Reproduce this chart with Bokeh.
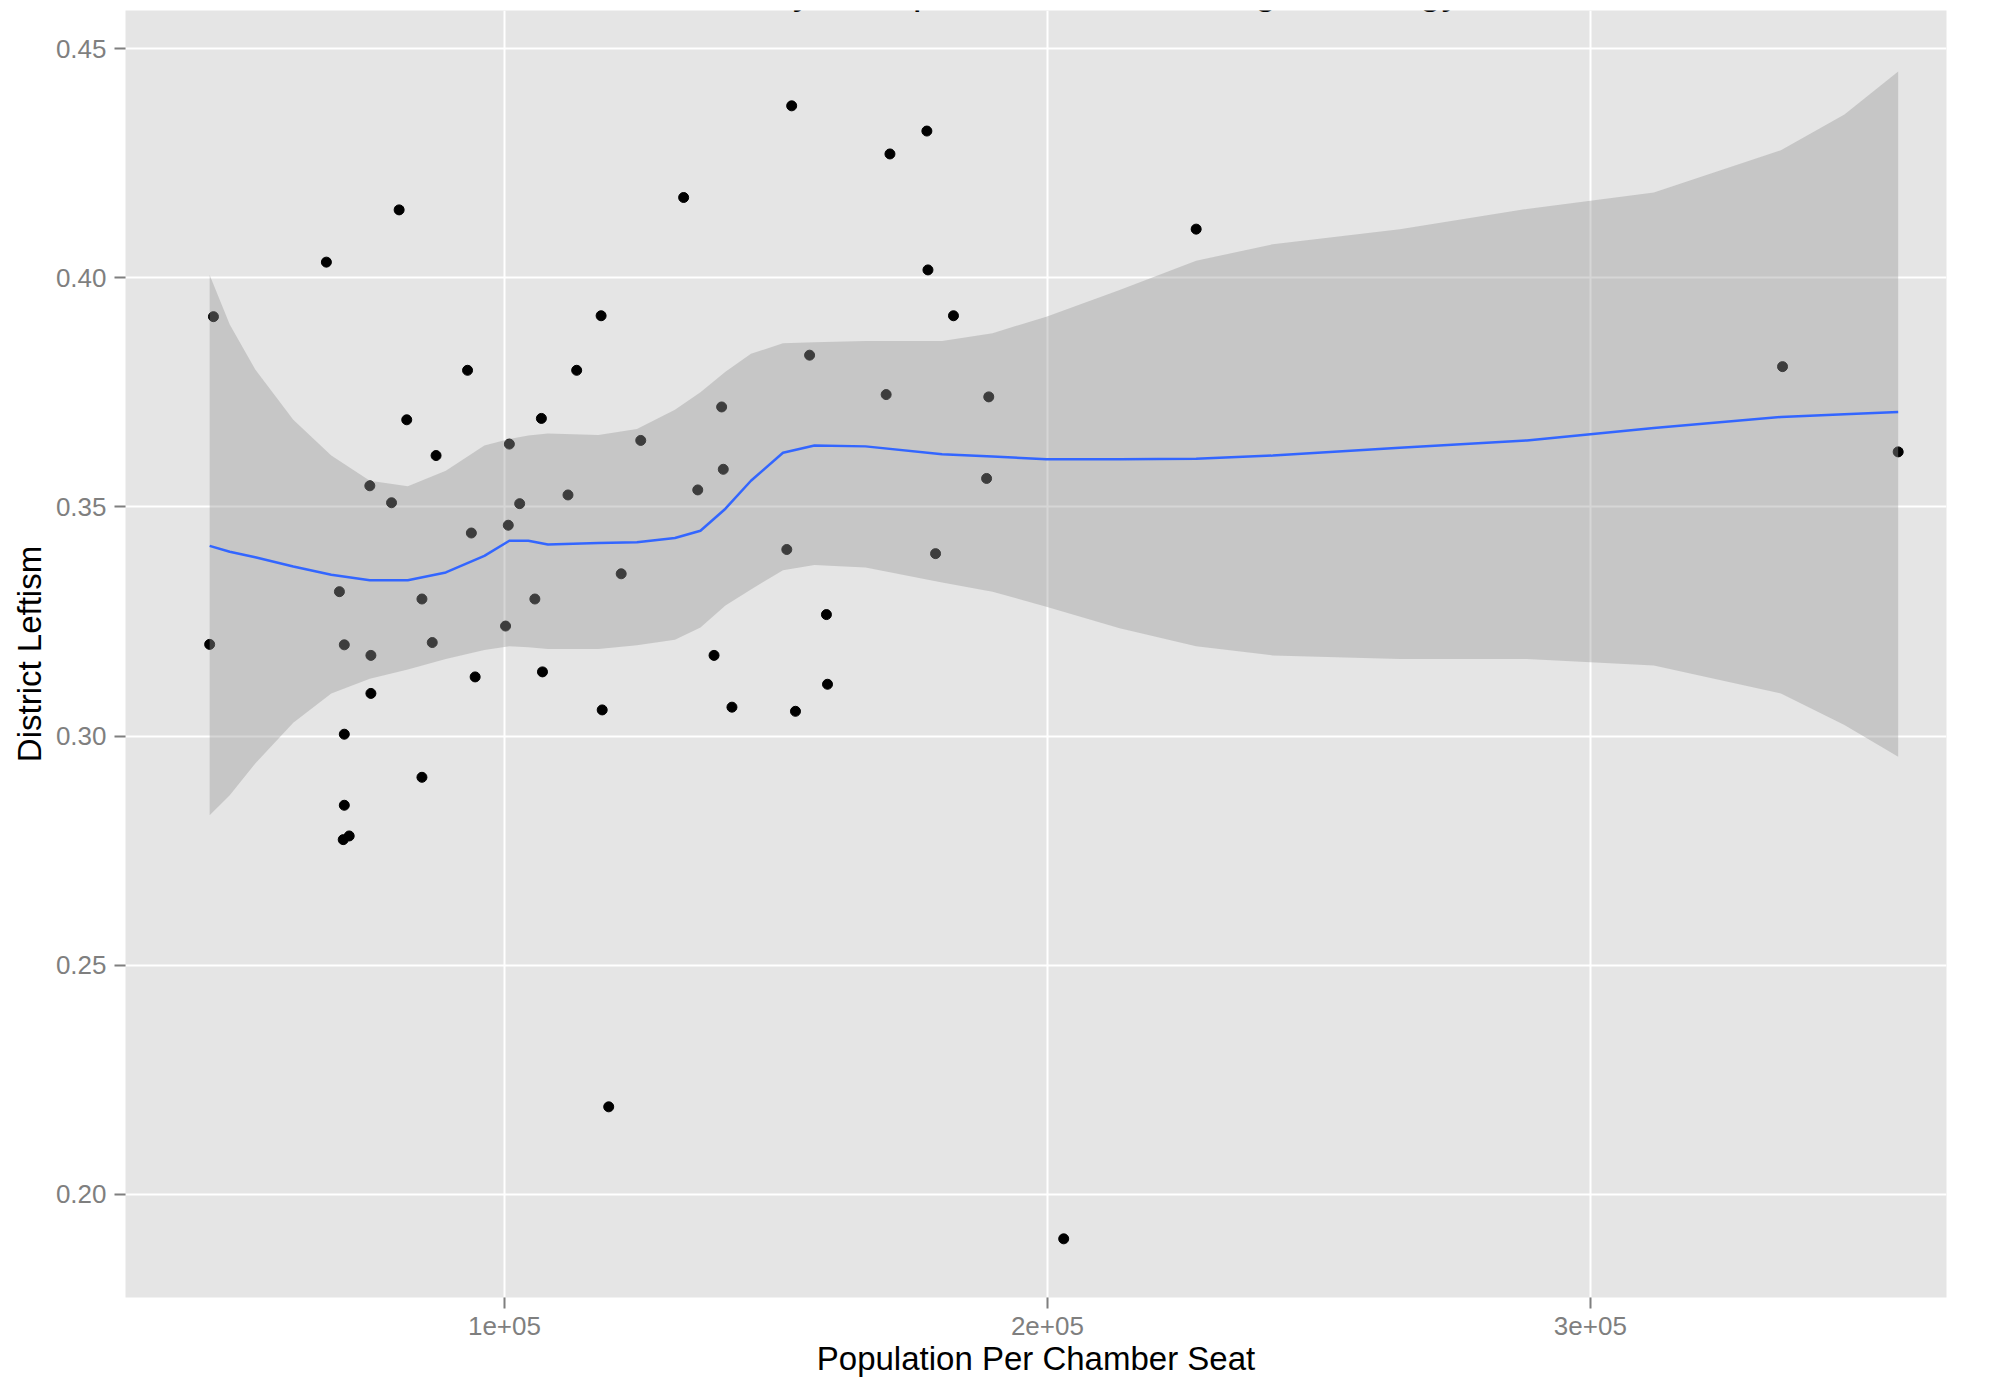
from bokeh.plotting import figure
from bokeh.models import Range1d, FixedTicker, Label, PrintfTickFormatter
from bokeh.embed import file_html
from bokeh.resources import INLINE

# ---- data ----
title_text = "Assembly Size per Seat and Average Ideology"
x_label = "Population Per Chamber Seat"
y_label = "District Leftism"

x_ticks = [100000, 200000, 300000]
x_tick_labels = ["1e+05", "2e+05", "3e+05"]
y_ticks = [0.20, 0.25, 0.30, 0.35, 0.40, 0.45]

point_x = [45700, 46400, 67200, 80600, 75200, 79200, 82000, 87400, 93200, 93900,
           69600, 70500, 75400, 84800, 86700, 75400, 94600, 70500, 84800, 70500,
           70300, 71400, 100900, 100700, 102800, 100200, 105600, 106800, 107000, 111700,
           113300, 117800, 118000, 121500, 119200, 125100, 133000, 135600, 140000, 140300,
           138600, 141900, 152900, 156200, 152000, 153600, 159300, 159500, 171000, 170300,
           177800, 178000, 179400, 182700, 189200, 188800, 203000, 227400, 335400, 356700]
point_y = [0.3200, 0.3915, 0.4034, 0.4148, 0.3546, 0.3509, 0.3690, 0.3612, 0.3798, 0.3443,
           0.3315, 0.3199, 0.3176, 0.3299, 0.3204, 0.3093, 0.3129, 0.3004, 0.2910, 0.2849,
           0.2774, 0.2782, 0.3637, 0.3460, 0.3507, 0.3240, 0.3299, 0.3693, 0.3140, 0.3526,
           0.3798, 0.3917, 0.3057, 0.3354, 0.2191, 0.3645, 0.4175, 0.3537, 0.3718, 0.3582,
           0.3176, 0.3063, 0.4375, 0.3831, 0.3407, 0.3054, 0.3265, 0.3113, 0.4270, 0.3745,
           0.4320, 0.4017, 0.3398, 0.3917, 0.3740, 0.3562, 0.1903, 0.4106, 0.3806, 0.3620]

smooth_x = [45700, 49400, 54100, 61100, 68100, 75200, 82200, 89200, 96300, 100900,
            104400, 108000, 117300, 124400, 131400, 136100, 140700, 145400, 151300, 157100,
            166500, 180600, 189900, 199800, 213300, 227400, 241500, 264900, 288300, 311700,
            335100, 346800, 356700]
smooth_y = [0.3415, 0.3402, 0.3390, 0.3370, 0.3352, 0.3340, 0.3340, 0.3357, 0.3393, 0.3426,
            0.3426, 0.3418, 0.3421, 0.3423, 0.3432, 0.3448, 0.3496, 0.3557, 0.3618, 0.3634,
            0.3632, 0.3615, 0.3610, 0.3604, 0.3604, 0.3605, 0.3612, 0.3629, 0.3645, 0.3672,
            0.3696, 0.3702, 0.3707]
band_upper = [0.4006, 0.3898, 0.3800, 0.3690, 0.3612, 0.3557, 0.3545, 0.3579, 0.3634, 0.3648,
              0.3656, 0.3660, 0.3657, 0.3670, 0.3712, 0.3750, 0.3795, 0.3834, 0.3857, 0.3859,
              0.3862, 0.3862, 0.3879, 0.3915, 0.3973, 0.4037, 0.4073, 0.4106, 0.4150, 0.4186,
              0.4278, 0.4356, 0.4450]
band_lower = [0.2827, 0.2871, 0.2940, 0.3029, 0.3093, 0.3125, 0.3145, 0.3168, 0.3188, 0.3196,
              0.3194, 0.3190, 0.3190, 0.3198, 0.3210, 0.3237, 0.3285, 0.3320, 0.3362, 0.3373,
              0.3368, 0.3335, 0.3315, 0.3282, 0.3235, 0.3196, 0.3176, 0.3168, 0.3168, 0.3154,
              0.3093, 0.3024, 0.2955]

# ---- figure ----
p = figure(width=1994, height=1380, output_backend="svg", toolbar_location=None,
           x_range=Range1d(30200, 365600), y_range=Range1d(0.1775, 0.4583),
           min_border_left=125, min_border_right=48, min_border_top=10,
           min_border_bottom=83)
p.background_fill_color = "#E5E5E5"
p.border_fill_color = "white"
p.outline_line_color = None

p.xaxis.ticker = FixedTicker(ticks=x_ticks, minor_ticks=[])
p.yaxis.ticker = FixedTicker(ticks=y_ticks, minor_ticks=[])
p.xaxis.major_label_overrides = {t: s for t, s in zip(x_ticks, x_tick_labels)}
p.yaxis.formatter = PrintfTickFormatter(format="%.2f")

for g in (p.xgrid, p.ygrid):
    g.grid_line_color = "white"
    g.grid_line_width = 2

for ax in (p.xaxis, p.yaxis):
    ax.axis_line_color = None
    ax.major_tick_line_color = "#7F7F7F"
    ax.major_tick_line_width = 2
    ax.major_tick_out = 11
    ax.major_tick_in = 0
    ax.minor_tick_out = 0
    ax.minor_tick_in = 0
    ax.major_label_text_font = "Liberation Sans"
    ax.major_label_text_font_size = "26px"
    ax.major_label_text_color = "#7F7F7F"
    ax.axis_label_text_font = "Liberation Sans"
    ax.axis_label_text_font_size = "33px"
    ax.axis_label_text_font_style = "normal"
    ax.axis_label_text_color = "black"

p.xaxis.axis_label = x_label
p.yaxis.axis_label = y_label
p.xaxis.major_label_standoff = 8
p.xaxis.axis_label_standoff = 2
p.yaxis.major_label_standoff = 8
p.yaxis.axis_label_standoff = 5

# points, then ribbon on top (as in ggplot), then smooth line
p.scatter(point_x, point_y, size=10, color="black")
p.varea(x=smooth_x, y1=band_lower, y2=band_upper, fill_color="#999999", fill_alpha=0.4)
p.line(smooth_x, smooth_y, line_color="#3366FF", line_width=2.5)

# title, cut off at the top edge as in the reference (only descenders visible)
p.add_layout(Label(x=926, y=1308, x_units="screen", y_units="screen", text=title_text,
                   text_align="center", text_baseline="alphabetic",
                   text_font="Liberation Sans", text_font_size="40px", text_color="black"))

open("out.html", "w").write(file_html(p, INLINE))
